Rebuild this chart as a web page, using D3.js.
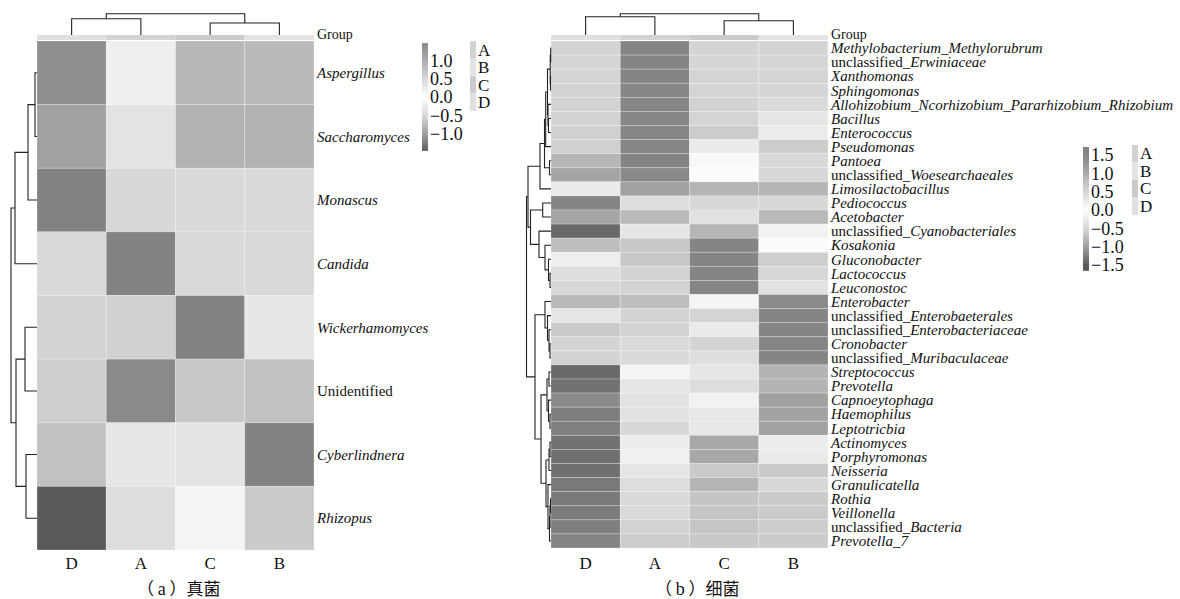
<!DOCTYPE html>
<html>
<head>
<meta charset="utf-8">
<script src="https://cdn.jsdelivr.net/npm/d3@7"></script>
<style>
  body { margin: 0; background: #fff; }
  svg text { fill: #111; }
</style>
</head>
<body>
<svg id="chart" width="1180" height="599" style="font-family: 'Liberation Serif', 'DejaVu Serif', serif"></svg>
<script>
// ---- data ----
var columns = ['D', 'A', 'C', 'B']
var groups = ['A', 'B', 'C', 'D']
var groupColors = ['#d2d2d2', '#e4e4e4', '#cbcbcb', '#e0e0e0']

// fungi (row z-scores, column order D A C B)
var fungiRows = [
  [{t: 'Aspergillus', i: true}],
  [{t: 'Saccharomyces', i: true}],
  [{t: 'Monascus', i: true}],
  [{t: 'Candida', i: true}],
  [{t: 'Wickerhamomyces', i: true}],
  [{t: 'Unidentified', i: false}],
  [{t: 'Cyberlindnera', i: true}],
  [{t: 'Rhizopus', i: true}]
]
var fungiValues = [
  [1.35, -0.21, -0.79, -0.77],
  [1.14, -0.37, -0.84, -0.84],
  [1.5, -0.51, -0.49, -0.49],
  [-0.5, 1.5, -0.5, -0.5],
  [-0.55, -0.57, 1.5, -0.32],
  [-0.6, 1.41, -0.65, -0.71],
  [-0.7, -0.33, -0.36, 1.5],
  [-1.5, 0.42, 0.12, 0.64]
]
// merge trees: [left, right, height], leaves are row/column indices
var fungiRowTree = [[[[0, 1, 2], 2, 9], 3, 22], [[4, 5, 12], [6, 7, 11], 21], 26]
var fungiColTree = [[0, 1, 16.3], [2, 3, 12], 21.3]

function U (name) { return [{t: 'unclassified_', i: false}, {t: name, i: true}] }
function I (name) { return [{t: name, i: true}] }
var bactRows = [
  I('Methylobacterium_Methylorubrum'), U('Erwiniaceae'), I('Xanthomonas'), I('Sphingomonas'),
  I('Allohizobium_Ncorhizobium_Pararhizobium_Rhizobium'), I('Bacillus'), I('Enterococcus'),
  I('Pseudomonas'), I('Pantoea'), U('Woesearchaeales'), I('Limosilactobacillus'), I('Pediococcus'),
  I('Acetobacter'), U('Cyanobacteriales'), I('Kosakonia'), I('Gluconobacter'), I('Lactococcus'),
  I('Leuconostoc'), I('Enterobacter'), U('Enterobaeterales'), U('Enterobacteriaceae'), I('Cronobacter'),
  U('Muribaculaceae'), I('Streptococcus'), I('Prevotella'), I('Capnoeytophaga'), I('Haemophilus'),
  I('Leptotricbia'), I('Actinomyces'), I('Porphyromonas'), I('Neisseria'), I('Granulicatella'),
  I('Rothia'), I('Veillonella'), U('Bacteria'), I('Prevotella_7')
]
var bactValues = [
  [-0.54, 1.47, -0.54, -0.54],
  [-0.53, 1.47, -0.53, -0.53],
  [-0.54, 1.47, -0.54, -0.54],
  [-0.55, 1.46, -0.54, -0.53],
  [-0.55, 1.46, -0.55, -0.49],
  [-0.56, 1.46, -0.54, -0.33],
  [-0.58, 1.46, -0.61, -0.25],
  [-0.58, 1.46, -0.26, -0.61],
  [-0.81, 1.49, -0.09, -0.51],
  [-0.96, 1.43, -0.04, -0.51],
  [0.25, 1.14, -0.82, -0.82],
  [1.47, -0.44, -0.51, -0.51],
  [1.08, -0.78, 0.37, -0.78],
  [-1.39, 0.31, 0.89, 0.16],
  [-0.74, -0.65, 1.47, -0.05],
  [-0.22, -0.65, 1.48, -0.59],
  [-0.44, -0.55, 1.48, -0.51],
  [-0.51, -0.55, 1.48, -0.38],
  [-0.78, -0.75, 0.12, 1.41],
  [-0.34, -0.55, -0.54, 1.47],
  [-0.62, -0.55, -0.26, 1.47],
  [-0.54, -0.49, -0.54, 1.47],
  [-0.55, -0.49, -0.44, 1.47],
  [-1.39, 0.12, 0.31, 0.9],
  [-1.33, 0.31, 0.42, 0.9],
  [-1.16, 0.35, 0.16, 1.14],
  [-1.24, 0.35, 0.28, 1.12],
  [-1.23, 0.47, 0.28, 1.12],
  [-1.33, 0.22, 1.05, 0.22],
  [-1.34, 0.18, 1.05, 0.25],
  [-1.34, 0.31, 0.64, 0.64],
  [-1.28, 0.42, 0.89, 0.47],
  [-1.28, 0.46, 0.7, 0.63],
  [-1.26, 0.46, 0.7, 0.63],
  [-1.24, 0.54, 0.7, 0.61],
  [-1.2, 0.61, 0.66, 0.63]
]
var bactTop = [[[[[[[0, 1, 0.3], [2, 3, 0.5], 0.8], [4, [5, 6, 2.5], 3], 3.5], 7, 5.3], [8, 9, 1.5], 6.5], 10, 11],
  [[11, 12, 8.3], [13, [14, [15, [16, 17, 1], 2.5], 6], 12], 20.5], 23]
var bactBottom = [[18, [19, [20, [21, 22, 1], 2], 3.5], 6],
  [[[23, 24, 2], [25, [26, 27, 1], 2.5], 4], [[[28, 29, 1], 30, 2], [31, [[[32, 33, 0.5], 34, 1], 35, 1.5], 3], 5], 10], 16]
var bactRowTree = [bactTop, bactBottom, 24.5]
var bactColTree = [[0, 1, 18.3], [2, 3, 14.3], 21.3]

var legendTicks = [1.5, 1.0, 0.5, 0.0, -0.5, -1.0, -1.5]

// ---- drawing ----
var svg = d3.select('#chart')
var serif = "'Liberation Serif', 'DejaVu Serif', serif"
var color = d3.scaleLinear()
  .domain([-1.5, -1, -0.5, 0, 0.5, 1, 1.5])
  .range(['#5a5a5a', '#a0a0a0', '#d9d9d9', '#ffffff', '#d6d6d6', '#acacac', '#838383'])
var fmt = function (d) { return (d < 0 ? '\u2212' : '') + Math.abs(d).toFixed(1) }

function dendro (g, tree, leafPos, hPos, horizontal) {
  function walk (node) {
    if (typeof node === 'number') return {p: leafPos(node), h: 0}
    var a = walk(node[0])
    var b = walk(node[1])
    var h = node[2]
    var path
    if (horizontal) {
      path = 'M' + hPos(a.h) + ',' + a.p + 'H' + hPos(h) + 'V' + b.p + 'H' + hPos(b.h)
    } else {
      path = 'M' + a.p + ',' + hPos(a.h) + 'V' + hPos(h) + 'H' + b.p + 'V' + hPos(b.h)
    }
    g.append('path').attr('d', path)
    return {p: (a.p + b.p) / 2, h: h}
  }
  walk(tree)
}

function heatmap (opt) {
  var g = svg.append('g')
  var x = d3.scaleBand().domain(d3.range(columns.length)).range([opt.x0, opt.x1])
  var y = d3.scaleBand().domain(d3.range(opt.rows.length)).range([opt.y0, opt.y1])

  // cells
  opt.values.forEach(function (row, r) {
    g.selectAll(null).data(row).enter().append('rect')
      .attr('x', function (d, c) { return x(c) })
      .attr('y', y(r))
      .attr('width', x.bandwidth())
      .attr('height', y.bandwidth())
      .attr('fill', function (d) { return color(d) })
      .attr('stroke', 'rgba(255,255,255,0.3)')
      .attr('stroke-width', 0.8)
  })

  // group annotation bar
  g.selectAll(null).data(columns).enter().append('rect')
    .attr('x', function (d, c) { return x(c) })
    .attr('y', opt.y0 - 6)
    .attr('width', x.bandwidth())
    .attr('height', 5)
    .attr('fill', function (d) { return groupColors[groups.indexOf(d)] })
  g.append('text').attr('x', opt.x1 + 3).attr('y', opt.y0 - 2)
    .style('font-family', serif).style('font-size', '14px').text('Group')

  // row labels
  var lab = g.selectAll(null).data(opt.rows).enter().append('text')
    .attr('x', opt.x1 + 3)
    .attr('y', function (d, r) { return y(r) + y.bandwidth() / 2 })
    .attr('dy', '0.35em')
    .style('font-family', serif)
    .style('font-size', opt.labelSize + 'px')
  lab.selectAll('tspan').data(function (d) { return d }).enter().append('tspan')
    .style('font-style', function (d) { return d.i ? 'italic' : 'normal' })
    .text(function (d) { return d.t })

  // column labels
  g.selectAll(null).data(columns).enter().append('text')
    .attr('x', function (d, c) { return x(c) + x.bandwidth() / 2 })
    .attr('y', 569)
    .attr('text-anchor', 'middle')
    .style('font-family', serif)
    .style('font-size', '17px')
    .text(function (d) { return d })

  // dendrograms
  var dg = g.append('g').attr('fill', 'none').attr('stroke', '#222').attr('stroke-width', 1.1)
  var hRow = d3.scaleLinear().domain([0, opt.rowMax]).range([opt.x0, opt.x0 - opt.rowDepth])
  dendro(dg, opt.rowTree, function (i) { return y(i) + y.bandwidth() / 2 }, hRow, true)
  var hCol = d3.scaleLinear().domain([0, 22]).range([opt.y0 - 6, opt.y0 - 28])
  dendro(dg, opt.colTree, function (i) { return x(i) + x.bandwidth() / 2 }, hCol, false)

  // caption
  var cap = svg.append('text').attr('x', opt.capX).attr('y', 595)
    .style('font-family', "'Noto Sans CJK SC', sans-serif").style('font-size', '17px')
  cap.append('tspan').text('（ ')
  cap.append('tspan').style('font-family', serif).style('font-size', '18px').text(opt.capLetter)
  cap.append('tspan').text(' ）' + opt.caption)
}

function legend (lx, top, bottom, ly, gx) {
  var g = svg.append('g')
  var s = ly
  var id = 'grad' + lx
  var grad = svg.append('defs').append('linearGradient').attr('id', id)
    .attr('x1', 0).attr('x2', 0).attr('y1', 0).attr('y2', 1)
  d3.range(0, 1.0001, 0.05).forEach(function (t) {
    var v = top + (bottom - top) * t
    grad.append('stop').attr('offset', t).attr('stop-color', color(Math.max(-1.5, Math.min(1.5, v))))
  })
  g.append('rect').attr('x', lx).attr('y', s(top)).attr('width', 6)
    .attr('height', s(bottom) - s(top)).attr('fill', 'url(#' + id + ')')
  g.selectAll(null).data(legendTicks.filter(function (d) { return d <= top && d >= bottom })).enter()
    .append('text').attr('x', lx + 8).attr('y', function (d) { return s(d) }).attr('dy', '0.36em')
    .style('font-family', serif).style('font-size', '18px').text(fmt)
  g.selectAll(null).data(groups).enter().append('rect')
    .attr('x', gx).attr('y', function (d, i) { return s(top) - 2 + i * 17.5 })
    .attr('width', 6).attr('height', 17.5)
    .attr('fill', function (d, i) { return groupColors[i] })
  g.selectAll(null).data(groups).enter().append('text')
    .attr('x', gx + 8).attr('y', function (d, i) { return s(top) - 2 + i * 17.5 + 8.75 }).attr('dy', '0.34em')
    .style('font-family', serif).style('font-size', '17px').text(function (d) { return d })
}

heatmap({
  x0: 37, x1: 314, y0: 41, y1: 550,
  rows: fungiRows, values: fungiValues, labelSize: 15,
  rowTree: fungiRowTree, rowMax: 26, rowDepth: 26,
  colTree: fungiColTree, capLetter: 'a', caption: '真菌', capX: 137
})
heatmap({
  x0: 551, x1: 828, y0: 41, y1: 548,
  rows: bactRows, values: bactValues, labelSize: 15,
  rowTree: bactRowTree, rowMax: 24.5, rowDepth: 24.5,
  colTree: bactColTree, capLetter: 'b', caption: '细菌', capX: 655
})
legend(422, 1.47, -1.47, d3.scaleLinear().domain([1.5, -1.5]).range([42, 152]), 470)
legend(1083, 1.72, -1.66, d3.scaleLinear().domain([1.5, -1.5]).range([155, 265]), 1132)
</script>
</body>
</html>
